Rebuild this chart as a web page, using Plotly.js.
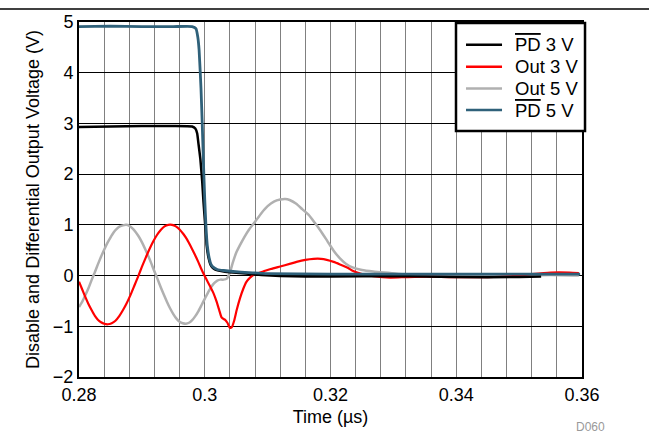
<!DOCTYPE html>
<html>
<head>
<meta charset="utf-8">
<script src="https://cdn.plot.ly/plotly-3.0.1.min.js"></script>
<style>html,body{margin:0;padding:0;background:#fff;}#chart{width:649px;height:435px;}</style>
</head>
<body>
<div id="chart"></div>
<script>
// PD 3 V (black)
const pd3T = [0.2800,0.2850,0.2900,0.2950,0.2980,0.2985,0.2988,0.2990,0.2993,0.2996,0.2998,0.3001,0.3003,0.3006,0.3009,0.3012,0.3016,0.3022,0.3030,0.3045,0.3065,0.3090,0.3120,0.3200,0.3300,0.3400,0.3500,0.3535];
const pd3V = [2.93,2.94,2.95,2.95,2.94,2.90,2.80,2.60,2.30,1.85,1.45,0.95,0.60,0.35,0.22,0.16,0.12,0.10,0.08,0.06,0.04,0.01,-0.01,-0.02,-0.01,-0.03,-0.03,-0.02];

// Out 3 V (red)
const out3T = [0.2800,0.2805,0.2810,0.2815,0.2820,0.2825,0.2830,0.2835,0.2840,0.2846,0.2852,0.2858,0.2864,0.2870,0.2876,0.2882,0.2888,0.2894,0.2900,0.2906,0.2912,0.2918,0.2924,0.2930,0.2936,0.2942,0.2948,0.2954,0.2960,0.2966,0.2972,0.2978,0.2984,0.2990,0.2996,0.3002,0.3008,0.3014,0.3019,0.3023,0.3027,0.3032,0.3036,0.3040,0.3043,0.3047,0.3051,0.3056,0.3061,0.3066,0.3072,0.3080,0.3093,0.3105,0.3120,0.3135,0.3146,0.3160,0.3173,0.3185,0.3194,0.3205,0.3215,0.3228,0.3236,0.3250,0.3268,0.3295,0.3320,0.3353,0.3395,0.3450,0.3490,0.3520,0.3550,0.3580,0.3595];
const out3V = [-0.12,-0.27,-0.42,-0.56,-0.68,-0.79,-0.87,-0.92,-0.95,-0.96,-0.94,-0.89,-0.80,-0.68,-0.54,-0.38,-0.20,-0.02,0.17,0.35,0.52,0.67,0.80,0.90,0.97,1.00,1.00,0.97,0.91,0.82,0.71,0.57,0.42,0.26,0.09,-0.06,-0.20,-0.35,-0.52,-0.68,-0.83,-0.87,-0.93,-1.03,-1.02,-0.88,-0.67,-0.45,-0.27,-0.13,-0.04,0.03,0.08,0.13,0.18,0.23,0.27,0.31,0.33,0.33,0.31,0.27,0.22,0.15,0.09,0.03,-0.01,-0.04,-0.03,-0.02,-0.03,-0.03,-0.01,0.03,0.06,0.06,0.05];

// Out 5 V (gray)
const out5T = [0.2800,0.2805,0.2810,0.2815,0.2820,0.2825,0.2830,0.2835,0.2840,0.2845,0.2850,0.2855,0.2860,0.2865,0.2870,0.2875,0.2880,0.2885,0.2890,0.2895,0.2900,0.2905,0.2910,0.2915,0.2920,0.2925,0.2930,0.2935,0.2940,0.2945,0.2950,0.2955,0.2960,0.2965,0.2970,0.2975,0.2980,0.2985,0.2990,0.2995,0.3000,0.3005,0.3010,0.3015,0.3020,0.3025,0.3030,0.3035,0.3040,0.3045,0.3050,0.3056,0.3063,0.3070,0.3080,0.3090,0.3100,0.3110,0.3120,0.3128,0.3135,0.3145,0.3155,0.3165,0.3175,0.3185,0.3195,0.3205,0.3215,0.3225,0.3235,0.3250,0.3268,0.3295,0.3320,0.3350,0.3400,0.3450,0.3500,0.3550,0.3595];
const out5V = [-0.62,-0.52,-0.39,-0.25,-0.09,0.06,0.22,0.37,0.51,0.64,0.75,0.85,0.92,0.97,0.99,1.00,0.98,0.93,0.86,0.77,0.66,0.53,0.39,0.24,0.08,-0.07,-0.23,-0.38,-0.52,-0.65,-0.76,-0.85,-0.91,-0.94,-0.95,-0.93,-0.88,-0.80,-0.70,-0.58,-0.46,-0.34,-0.23,-0.15,-0.10,-0.08,-0.08,-0.06,0.06,0.27,0.45,0.60,0.76,0.90,1.06,1.23,1.37,1.46,1.50,1.51,1.49,1.42,1.31,1.20,1.04,0.87,0.68,0.49,0.34,0.23,0.16,0.11,0.08,0.05,0.02,0.01,0.00,0.01,0.00,0.01,0.00];

// PD 5 V (blue)
const pd5T = [0.2800,0.2850,0.2900,0.2950,0.2980,0.2986,0.2989,0.2991,0.2994,0.2996,0.2998,0.3000,0.3002,0.3004,0.3007,0.3010,0.3014,0.3020,0.3030,0.3045,0.3070,0.3100,0.3200,0.3300,0.3400,0.3500,0.3597];
const pd5V = [4.91,4.92,4.91,4.91,4.91,4.87,4.70,4.45,3.70,3.00,2.20,1.50,0.95,0.60,0.35,0.22,0.16,0.12,0.10,0.08,0.06,0.04,0.03,0.03,0.03,0.03,0.03];

const xTickVals = [0.28,0.30,0.32,0.34,0.36];
const xTickText = ['0.28','0.3','0.32','0.34','0.36'];

const font = '"Liberation Sans", Arial, sans-serif';
const ol = s => '<span style="text-decoration:overline;text-decoration-thickness:3px">' + s + '</span>';

const series = [
  {t: out5T, v: out5V, name: 'Out 5 V', color: '#b0b0b0', width: 2.5, sm: 0.6},
  {t: out3T, v: out3V, name: 'Out 3 V', color: '#ff0000', width: 2.2, sm: 0.6},
  {t: pd3T, v: pd3V, name: ol('PD') + ' 3 V', color: '#000000', width: 2.5, sm: 0.4},
  {t: pd5T, v: pd5V, name: ol('PD') + ' 5 V', color: '#2f617a', width: 2.8, sm: 0.4}
];
const legendOrder = [2, 1, 0, 3];

const traces = series.map(s => ({
  x: s.t, y: s.v, name: s.name, mode: 'lines', showlegend: false,
  line: {color: s.color, width: s.width, shape: 'spline', smoothing: s.sm}
}));

// custom legend box (paper coords)
const legX0 = 0.7495, legX1 = 1.006, legY0 = 0.693, legY1 = 0.997;
const rowY = [0.9361, 0.8741, 0.8130, 0.7521];
const shapes = [
  {type: 'line', xref: 'paper', yref: 'paper', x0: -0.16, x1: 1.14, y0: 1.0366, y1: 1.0366, line: {color: '#000', width: 1.5}},
  {type: 'rect', xref: 'paper', yref: 'paper', x0: legX0, x1: legX1, y0: legY0, y1: legY1, fillcolor: '#ffffff', line: {color: '#000', width: 2.5}, layer: 'above'}
];
const annotations = [
  {text: 'D060', xref: 'paper', yref: 'paper', x: 1.017, y: -0.14, xanchor: 'center', yanchor: 'middle', showarrow: false, font: {family: font, size: 12, color: '#999999'}}
];
legendOrder.forEach((si, i) => {
  const s = series[si];
  shapes.push({type: 'line', xref: 'paper', yref: 'paper', x0: 0.7694, x1: 0.841, y0: rowY[i], y1: rowY[i], line: {color: s.color, width: 2.5}, layer: 'above'});
  annotations.push({text: s.name, xref: 'paper', yref: 'paper', x: 0.8628, y: rowY[i], xanchor: 'left', yanchor: 'middle', showarrow: false, font: {family: font, size: 18.5, color: '#000'}});
});

const layout = {
  width: 649, height: 435,
  margin: {l: 79, r: 67, t: 22, b: 58},
  paper_bgcolor: '#ffffff', plot_bgcolor: '#ffffff',
  font: {family: font, size: 18, color: '#000'},
  showlegend: false,
  xaxis: {
    range: [0.28, 0.36], tickvals: xTickVals, ticktext: xTickText,
    showgrid: true, gridcolor: '#808080', gridwidth: 1,
    minor: {dtick: 0.004, tick0: 0.28, showgrid: true, gridcolor: '#808080', gridwidth: 1},
    showline: true, linecolor: '#000', linewidth: 2, mirror: true,
    zeroline: false, ticks: '',
    tickfont: {family: font, size: 18, color: '#000'},
    title: {text: 'Time (µs)', font: {family: font, size: 18, color: '#000'}, standoff: 7}
  },
  yaxis: {
    range: [-2, 5], dtick: 1, tick0: 0,
    showgrid: true, gridcolor: '#000000', gridwidth: 1,
    showline: true, linecolor: '#000', linewidth: 2, mirror: true,
    zeroline: false, ticks: '',
    tickfont: {family: font, size: 18, color: '#000'},
    title: {text: 'Disable and Differential Output Voltage (V)', font: {family: font, size: 18, color: '#000'}, standoff: 9}
  },
  shapes: shapes,
  annotations: annotations
};

Plotly.newPlot('chart', traces, layout, {displayModeBar: false, staticPlot: true});
</script>
</body>
</html>
